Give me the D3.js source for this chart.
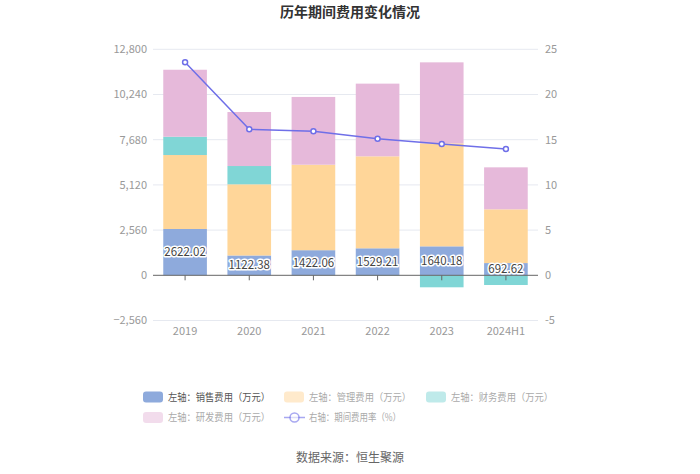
<!DOCTYPE html>
<html><head><meta charset="utf-8">
<script src="https://cdn.jsdelivr.net/npm/d3@7"></script>
<style>body{margin:0;background:#fff;}svg{display:block;font-family:"Noto Sans CJK SC","Microsoft YaHei",sans-serif;}</style>
</head><body><svg id="c" width="700" height="474"></svg>
<script>
const categories = ["2019","2020","2021","2022","2023","2024H1"];
const sales = [2622.02,1122.38,1422.06,1529.21,1640.18,692.62];
const admin = [4190,4031,4841,5209,5834,3044];
const finance = [1036,1036,-10,-20,-680,-550];
const rnd = [3794,3058,3839,4117,4587,2378];
const rate = [23.56,16.15,15.93,15.11,14.52,13.97];
const leftTicks = [-2560,0,2560,5120,7680,10240,12800];
const rightTicks = [-5,0,5,10,15,20,25];
const seriesNames = ["左轴：销售费用（万元）","左轴：管理费用（万元）","左轴：财务费用（万元）","左轴：研发费用（万元）","右轴：期间费用率（%）"];
const colors = ["#8eaadc","#ffd699","#80d6d6","#e6b9da","#6f6fe8"];

const svg = d3.select("#c");
const x0 = 153, x1 = 538;
const yL = d3.scaleLinear().domain([-2560,12800]).range([320.5,49.3]);
const yR = d3.scaleLinear().domain([-5,25]).range([320.5,49.3]);
const x = d3.scaleBand().domain(categories).range([x0,x1]).paddingInner(0.32).paddingOuter(0.16);
const xc = d3.scaleBand().domain(categories).range([x0,x1]);

svg.append("text").attr("x",350).attr("y",17).attr("text-anchor","middle")
  .attr("font-size",14).attr("font-weight","bold").attr("fill","#333").text("历年期间费用变化情况");

// grid
svg.append("g").selectAll("line").data(leftTicks.filter(d=>d!==0)).join("line")
  .attr("x1",x0).attr("x2",x1).attr("y1",d=>yL(d)).attr("y2",d=>yL(d))
  .attr("stroke","#e6e9f0").attr("stroke-width",1);

// axis labels
const fmt = d3.format(",");
svg.append("g").selectAll("text").data(leftTicks).join("text")
  .attr("x",147).attr("y",d=>yL(d)).attr("dy","0.35em").attr("text-anchor","end")
  .attr("font-size",11).attr("fill","#999").text(d=>fmt(d));
svg.append("g").selectAll("text").data(rightTicks).join("text")
  .attr("x",545).attr("y",d=>yR(d)).attr("dy","0.35em").attr("text-anchor","start")
  .attr("font-size",11).attr("fill","#999").text(d=>d);

// stacked bars
const rows = categories.map((c,i)=>({cat:c,s:sales[i],a:admin[i],f:finance[i],r:rnd[i]}));
const keys = ["s","a","f","r"];
const stack = d3.stack().keys(keys).offset(d3.stackOffsetDiverging)(rows);
svg.append("g").selectAll("g").data(stack).join("g").attr("fill",(d,i)=>colors[i])
  .selectAll("rect").data(d=>d).join("rect")
  .attr("x",d=>x(d.data.cat)).attr("width",x.bandwidth())
  .attr("y",d=>yL(Math.max(d[0],d[1]))).attr("height",d=>Math.abs(yL(d[0])-yL(d[1])));

// x axis line & ticks
svg.append("line").attr("x1",x0).attr("x2",x1).attr("y1",yL(0)).attr("y2",yL(0)).attr("stroke","#666");
svg.append("g").selectAll("line").data(categories).join("line")
  .attr("x1",d=>xc(d)+xc.bandwidth()/2).attr("x2",d=>xc(d)+xc.bandwidth()/2)
  .attr("y1",yL(0)).attr("y2",yL(0)+5).attr("stroke","#666");
svg.append("g").selectAll("text").data(categories).join("text")
  .attr("x",d=>xc(d)+xc.bandwidth()/2).attr("y",331).attr("dy","0.35em").attr("text-anchor","middle")
  .attr("font-size",11).attr("fill","#999").text(d=>d);

// sales labels
svg.append("g").selectAll("text").data(stack[0]).join("text")
  .attr("x",d=>x(d.data.cat)+x.bandwidth()/2).attr("y",d=>(yL(d[0])+yL(d[1]))/2).attr("dy","0.35em")
  .attr("text-anchor","middle").attr("font-size",11.5).attr("fill","#444")
  .attr("stroke","#fff").attr("stroke-width",3).attr("paint-order","stroke").attr("stroke-linejoin","round")
  .text(d=>d.data.s.toFixed(2));

// line
const line = d3.line().x((d,i)=>xc(categories[i])+xc.bandwidth()/2).y(d=>yR(d));
svg.append("path").datum(rate).attr("d",line).attr("fill","none").attr("stroke",colors[4]).attr("stroke-width",1.5);
svg.append("g").selectAll("circle").data(rate).join("circle")
  .attr("cx",(d,i)=>xc(categories[i])+xc.bandwidth()/2).attr("cy",d=>yR(d)).attr("r",2.5)
  .attr("fill","#fff").attr("stroke",colors[4]).attr("stroke-width",1.5);

// legend
const leg = [
  {x:143,y:397,i:0},{x:284,y:397,i:1},{x:426,y:397,i:2},
  {x:143,y:417.5,i:3},{x:284,y:417.5,i:4}
];
const lg = svg.append("g");
leg.forEach(l=>{
  const op = l.i===0?1:0.5;
  if(l.i<4){
    lg.append("rect").attr("x",l.x).attr("y",l.y-5.5).attr("width",20).attr("height",11).attr("rx",3)
      .attr("fill",colors[l.i]).attr("opacity",op);
  } else {
    lg.append("line").attr("x1",l.x).attr("x2",l.x+21).attr("y1",l.y).attr("y2",l.y).attr("stroke",colors[4]).attr("stroke-width",1.5).attr("opacity",0.6);
    lg.append("circle").attr("cx",l.x+10.5).attr("cy",l.y).attr("r",4.5).attr("fill","#fff").attr("stroke",colors[4]).attr("stroke-width",1.5).attr("opacity",0.6);
  }
  lg.append("text").attr("x",l.x+25).attr("y",l.y).attr("dy","0.35em").attr("font-size",10)
    .attr("textLength", l.i===4?92:102).attr("lengthAdjust","spacingAndGlyphs")
    .attr("fill",l.i===0?"#555":"#aaa").text(seriesNames[l.i]);
});

svg.append("text").attr("x",350).attr("y",458).attr("dy","0.35em").attr("text-anchor","middle")
  .attr("font-size",12).attr("fill","#666").text("数据来源：恒生聚源");
</script></body></html>
